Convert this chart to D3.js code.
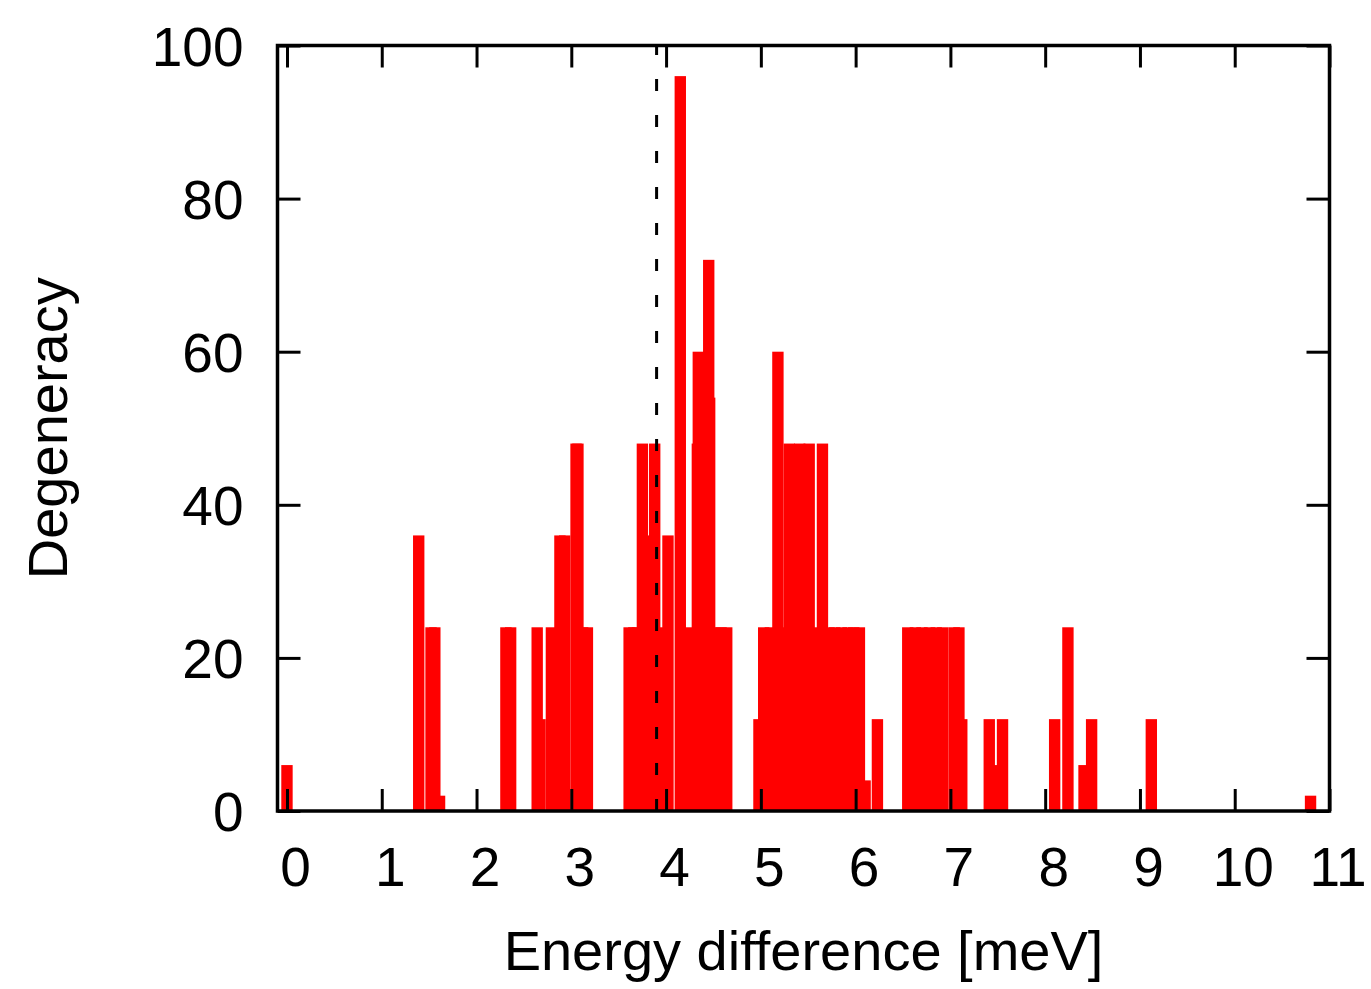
<!DOCTYPE html>
<html>
<head>
<meta charset="utf-8">
<script src="https://cdn.jsdelivr.net/npm/d3@7"></script>
<style>
  body { margin: 0; background: #fff; }
  svg text { font-family: "Liberation Sans", Arial, Helvetica, sans-serif; fill: #000; }
</style>
</head>
<body>
<div id="chart"></div>
<script>
// energy (meV) and degeneracy of each box
var energy = [
  0.00, 1.39, 1.52, 1.56, 1.61, 2.31, 2.36, 2.64, 2.67, 2.79,
  2.88, 2.93, 3.05, 3.07, 3.12, 3.17, 3.61, 3.66, 3.70, 3.75,
  3.82, 3.88, 3.95, 4.02, 4.15, 4.22, 4.33, 4.34, 4.45, 4.46,
  4.52, 4.58, 4.64, 4.98, 5.03, 5.10, 5.18, 5.25, 5.30, 5.41,
  5.51, 5.58, 5.65, 5.72, 5.78, 5.85, 5.92, 5.98, 6.04, 6.10,
  6.23, 6.55, 6.63, 6.70, 6.78, 6.85, 6.92, 7.04, 7.09, 7.12,
  7.41, 7.47, 7.55, 8.10, 8.24, 8.41, 8.49, 9.12, 10.80
];
var degeneracy = [
  6, 36, 24, 24, 2, 24, 24, 24, 12, 24,
  36, 36, 48, 48, 24, 24, 24, 24, 24, 48,
  36, 48, 24, 36, 96, 24, 48, 60, 72, 54,
  24, 24, 24, 12, 24, 24, 60, 24, 48, 48,
  48, 24, 48, 24, 24, 24, 24, 24, 24, 4,
  12, 24, 24, 24, 24, 24, 24, 24, 24, 12,
  12, 6, 12, 12, 24, 6, 12, 12, 2
];
var xTicks = [0, 1, 2, 3, 4, 5, 6, 7, 8, 9, 10, 11];
var yTicks = [0, 20, 40, 60, 80, 100];
var boxWidth = 0.12;
var markerEnergy = 3.9; // dashed line

var width = 1371, height = 989;
var plotLeft = 277.5, plotRight = 1329.5, plotTop = 45.5, plotBottom = 811;
var fontSize = 55, titleSize = 56;

var svg = d3.select("#chart").append("svg")
  .attr("width", width)
  .attr("height", height);

var x = d3.scaleLinear().domain([-0.1, 11]).range([plotLeft, plotRight]);
var y = d3.scaleLinear().domain([0, 100]).range([plotBottom, plotTop]);

var data = energy.map(function (e, i) { return { e: e, d: degeneracy[i] }; });

// boxes
svg.append("g")
  .selectAll("rect")
  .data(data)
  .join("rect")
  .attr("x", function (d) { return x(d.e - boxWidth / 2); })
  .attr("width", function (d) { return x(d.e + boxWidth / 2) - x(d.e - boxWidth / 2); })
  .attr("y", function (d) { return y(d.d); })
  .attr("height", function (d) { return y(0) - y(d.d); })
  .attr("fill", "#ff0000");

// dashed vertical line, drawn from bottom up
svg.append("line")
  .attr("x1", x(markerEnergy)).attr("x2", x(markerEnergy))
  .attr("y1", y(0)).attr("y2", y(100))
  .attr("stroke", "#000")
  .attr("stroke-width", 3)
  .attr("stroke-dasharray", "12,24");

// axes (ticks point inwards, mirrored on top/right)
function styleAxis(g) {
  g.select(".domain").remove();
  g.selectAll(".tick line").attr("stroke", "#000").attr("stroke-width", 3);
  g.selectAll(".tick text").style("font-size", fontSize + "px");
}

svg.append("g")
  .attr("transform", "translate(0," + plotBottom + ")")
  .call(d3.axisBottom(x).tickValues(xTicks).tickSizeInner(-22).tickSizeOuter(0).tickPadding(36))
  .call(styleAxis)
  .selectAll(".tick text").attr("dx", 8);

svg.append("g")
  .attr("transform", "translate(0," + plotTop + ")")
  .call(d3.axisTop(x).tickValues(xTicks).tickSizeInner(-22).tickSizeOuter(0).tickFormat(""))
  .call(styleAxis);

svg.append("g")
  .attr("transform", "translate(" + plotLeft + ",0)")
  .call(d3.axisLeft(y).tickValues(yTicks).tickSizeInner(-23).tickSizeOuter(0).tickPadding(34))
  .call(styleAxis)
  .selectAll(".tick text").attr("dy", "0.36em");

svg.append("g")
  .attr("transform", "translate(" + plotRight + ",0)")
  .call(d3.axisRight(y).tickValues(yTicks).tickSizeInner(-23).tickSizeOuter(0).tickFormat(""))
  .call(styleAxis);

// frame
svg.append("rect")
  .attr("x", plotLeft).attr("y", plotTop)
  .attr("width", plotRight - plotLeft).attr("height", plotBottom - plotTop)
  .attr("fill", "none")
  .attr("stroke", "#000")
  .attr("stroke-width", 3.5);

// axis titles
svg.append("text")
  .attr("x", (plotLeft + plotRight) / 2)
  .attr("y", 970)
  .attr("text-anchor", "middle")
  .style("font-size", titleSize + "px")
  .text("Energy difference [meV]");

svg.append("text")
  .attr("transform", "translate(67," + (plotTop + plotBottom) / 2 + ") rotate(-90)")
  .attr("text-anchor", "middle")
  .style("font-size", titleSize + "px")
  .text("Degeneracy");
</script>
</body>
</html>
